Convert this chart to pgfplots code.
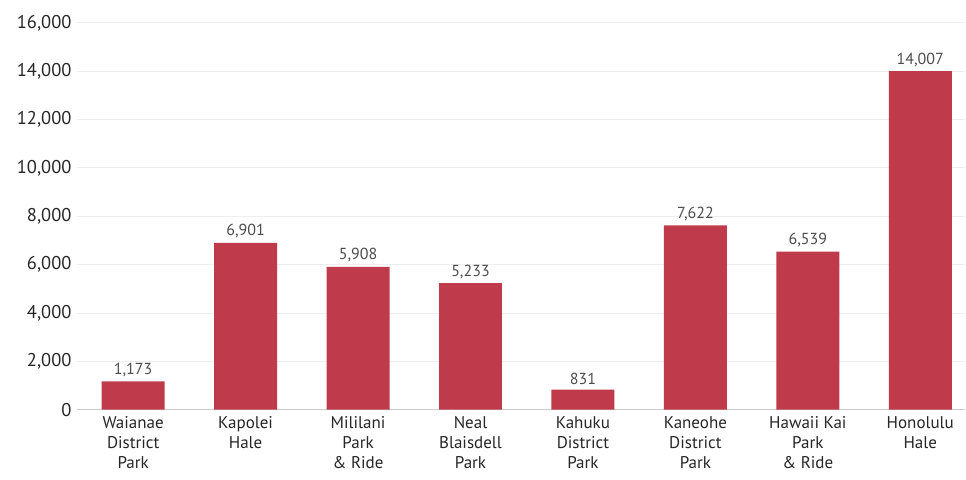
\documentclass[border=0pt]{standalone}
\usepackage{pgfplots}
\pgfplotsset{compat=1.18}
\usepackage{fontspec}
\setmainfont{PT Sans}
\definecolor{barred}{HTML}{BF3A4A}
\definecolor{gridgrey}{HTML}{EEEEEE}
\definecolor{axisgrey}{HTML}{CCCCCC}
\begin{document}
\begin{tikzpicture}[x=1pt,y=1pt]
\begin{axis}[
    scale only axis,
    width=889pt, height=387pt,
    ybar, bar width=63pt,
    xmin=-0.5, xmax=7.4,
    ymin=0, ymax=16000,
    ytick={0,2000,...,16000},
    scaled y ticks=false,
    xtick=data,
    xticklabels={{Waianae\\District\\Park},{Kapolei\\Hale},{Mililani\\Park\\\& Ride},{Neal\\Blaisdell\\Park},{Kahuku\\District\\Park},{Kaneohe\\District\\Park},{Hawaii Kai\\Park\\\& Ride},{Honolulu\\Hale}},
    xticklabel style={align=center, font=\fontsize{17}{20}\selectfont, text=black!85, yshift=-3pt},
    yticklabel style={font=\fontsize{18.5}{20}\selectfont, text=black!85, xshift=-2pt},
    axis x line*=bottom,
    axis y line*=left,
    x axis line style={draw=axisgrey, line width=1.5pt},
    y axis line style={draw=none},
    ymajorgrids,
    grid style={draw=gridgrey, line width=1pt},
    major tick length=0pt,
    tick style={draw=none},
    /pgf/number format/.cd, 1000 sep={,}, assume math mode=true,
    /pgfplots/.cd,
    nodes near coords,
    every node near coord/.append style={font=\fontsize{16}{18}\selectfont, text=black!70, yshift=1pt},
    clip=false,
]
\addplot[fill=barred, draw=none] coordinates {
    (0,1173) (1,6901) (2,5908) (3,5233) (4,831) (5,7622) (6,6539) (7,14007)
};
\end{axis}
\path (-77,-70) rectangle (889,410);
\end{tikzpicture}
\end{document}
